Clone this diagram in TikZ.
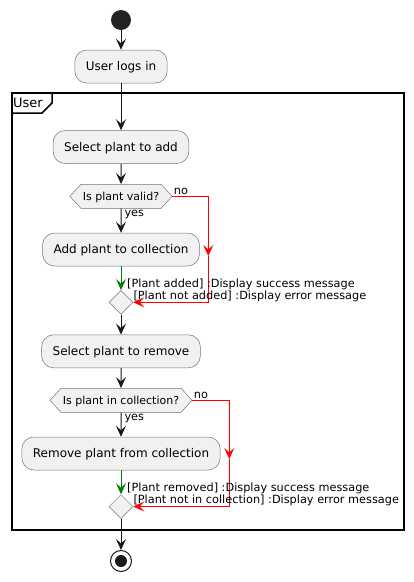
\documentclass[tikz,border=0pt]{standalone}
\usepackage{fontspec}
\setmainfont{DejaVu Sans}
\usetikzlibrary{arrows.meta,shapes.geometric,shapes.symbols}
\definecolor{actfill}{HTML}{F1F1F1}
\definecolor{actline}{HTML}{181818}
\definecolor{okgreen}{HTML}{008000}
\begin{document}
\begin{tikzpicture}[x=1pt,y=-1pt,
		>={Stealth[length=11pt,width=10pt,inset=4.5pt]},
		act/.style={draw=actline!60,line width=0.5pt,fill=actfill,rounded corners=12pt,minimum height=33pt,inner xsep=11pt,text height=8.75pt,text depth=0pt,font=\fontsize{12}{14}\selectfont},
		decide/.style={shape=signal,signal to=west and east,signal pointer angle=95,draw=actline!60,line width=0.5pt,fill=actfill,minimum height=24pt,inner xsep=2pt,inner ysep=0pt,text height=8pt,text depth=0pt,font=\fontsize{11}{13}\selectfont},
		mergept/.style={diamond,draw=actline!60,line width=0.5pt,fill=actfill,minimum width=24pt,minimum height=24pt,inner sep=0pt},
		flow/.style={->,draw=actline,line width=1pt},
		ok/.style={->,draw=okgreen,line width=1pt},
		ko/.style={->,draw=red,line width=1pt},
		lbl/.style={font=\fontsize{11.3}{13}\selectfont,inner sep=1pt}]
	\useasboundingbox (0,0) rectangle (414,582);
	% swimlane frame
	\draw[line width=1.5pt] (12,93) rectangle (404,530);
	\draw[line width=1.5pt] (12,113) -- (42,113) -- (52,103) -- (52,93);
	\node[anchor=west,inner sep=0pt,font=\fontsize{13}{15}\selectfont] (lane) at (13,103) {User};
	% activities
	\node[circle,fill=actline!95,minimum size=20pt,inner sep=0pt] (start) at (121,20) {};
	\node[act] (login) at (121,66.5) {User logs in};
	\node[act] (selAdd) at (121,147) {Select plant to add};
	\node[decide] (valid) at (121,196.3) {Is plant valid?};
	\node[act] (addPlant) at (121,249.5) {Add plant to collection};
	\node[mergept] (added) at (121,302.3) {};
	\node[act] (selRem) at (121,351.3) {Select plant to remove};
	\node[decide] (inColl) at (121,400.3) {Is plant in collection?};
	\node[act] (remPlant) at (121,453.5) {Remove plant from collection};
	\node[mergept] (removed) at (121,506.5) {};
	\node[circle,draw=actline,line width=1pt,minimum size=21pt,inner sep=0pt] (stop) at (121,561) {};
	\fill[actline] (stop) circle (6);
	\coordinate (noAdd) at (208.3,256);
	\coordinate (noRem) at (229.3,459);
	% flows
	\draw[flow] (start) -- (login);
	\draw[flow] (login) -- (selAdd);
	\draw[flow] (selAdd) -- (valid);
	\draw[flow] (valid) -- node[lbl,pos=0,anchor=north west,xshift=2pt] {yes} (addPlant);
	\draw[ok] (addPlant) -- (added);
	\draw[ko] (valid.east) -| node[lbl,pos=0,anchor=south west] {no} (noAdd);
	\draw[ko] (noAdd) |- (added.east);
	\node[lbl,anchor=west] (addedOk) at (126,284) {[Plant added] :Display success message};
	\node[lbl,anchor=west] (addedKo) at (132.3,296) {[Plant not added] :Display error message};
	\draw[flow] (added) -- (selRem);
	\draw[flow] (selRem) -- (inColl);
	\draw[flow] (inColl) -- node[lbl,pos=0,anchor=north west,xshift=2pt] {yes} (remPlant);
	\draw[ok] (remPlant) -- (removed);
	\draw[ko] (inColl.east) -| node[lbl,pos=0,anchor=south west] {no} (noRem);
	\draw[ko] (noRem) |- (removed.east);
	\node[lbl,anchor=west] (removedOk) at (126,488) {[Plant removed] :Display success message};
	\node[lbl,anchor=west] (removedKo) at (132.3,500) {[Plant not in collection] :Display error message};
	\draw[flow] (removed) -- (stop);
\end{tikzpicture}
\end{document}
